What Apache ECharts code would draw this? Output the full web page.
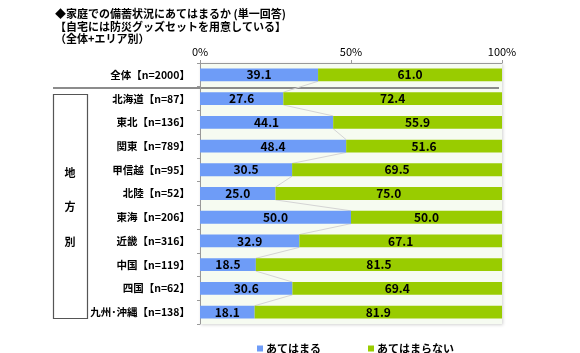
<!DOCTYPE html>
<html>
<head>
<meta charset="utf-8">
<script src="https://cdn.jsdelivr.net/npm/echarts@6/dist/echarts.min.js"></script>
<style>html,body{margin:0;padding:0;background:#fff;}#c{width:580px;height:353px;}</style>
</head>
<body>
<div id="c"></div>
<script>
const categories = ['全体【n=2000】','北海道【n=87】','東北【n=136】','関東【n=789】','甲信越【n=95】','北陸【n=52】','東海【n=206】','近畿【n=316】','中国【n=119】','四国【n=62】','九州･沖縄【n=138】'];
const applies = [39.1, 27.6, 44.1, 48.4, 30.5, 25.0, 50.0, 32.9, 18.5, 30.6, 18.1];
const notApplies = [61.0, 72.4, 55.9, 51.6, 69.5, 75.0, 50.0, 67.1, 81.5, 69.4, 81.9];
const seriesNames = ['あてはまる', 'あてはまらない'];
const xTicks = [0, 50, 100];
const titleLines = ['◆家庭での備蓄状況にあてはまるか (単一回答)', '【自宅には防災グッズセットを用意している】', '（全体+エリア別）'];
const groupLabel = ['地', '方', '別'];

const FONT = '"Noto Sans CJK JP", "Noto Sans", sans-serif';
const BAR_RATIO = 0.54;
const chart = echarts.init(document.getElementById('c'));

const connectorData = applies.slice(0, -1).map((v, i) => [i, v, applies[i + 1]]);

chart.setOption({
  animation: false,
  textStyle: { fontFamily: FONT },
  title: {
    text: titleLines.join('\n'),
    left: 50, top: 3,
    textStyle: { fontSize: 11, fontWeight: 'bold', color: '#000', lineHeight: 12.5, fontFamily: FONT }
  },
  legend: {
    left: 252, top: 338,
    icon: 'rect', itemWidth: 6, itemHeight: 6, itemGap: 47,
    textStyle: { fontSize: 11, fontWeight: 'bold', color: '#000', padding: [0, 0, 0, -2] },
    data: seriesNames
  },
  grid: {
    left: 200, right: 78, top: 63, bottom: 29,
    show: true, backgroundColor: '#f6fbf1', borderWidth: 0,
    shadowColor: 'rgba(0,0,0,0.18)', shadowBlur: 3, shadowOffsetX: 1, shadowOffsetY: 1
  },
  xAxis: {
    type: 'value', position: 'top', min: 0, max: 100, interval: 50,
    axisLine: { show: true, lineStyle: { color: '#999' } },
    axisTick: { show: true, length: 3, lineStyle: { color: '#999' } },
    splitLine: { show: false },
    axisLabel: {
      formatter: v => xTicks.includes(v) ? v + '%' : '',
      fontSize: 11, color: '#000', margin: 6, fontFamily: FONT
    }
  },
  yAxis: {
    type: 'category', inverse: true, data: categories,
    axisLine: { show: true, lineStyle: { color: '#999' } },
    axisTick: { show: true, length: 3, lineStyle: { color: '#999' } },
    axisLabel: { fontSize: 10.5, fontWeight: 'bold', color: '#000', margin: 10, fontFamily: FONT }
  },
  series: [
    {
      name: seriesNames[0], type: 'bar', stack: 's', data: applies,
      barWidth: (BAR_RATIO * 100) + '%',
      itemStyle: { color: '#6e9cf7' },
      label: { show: true, position: 'inside', formatter: p => p.value.toFixed(1), color: '#000', fontSize: 12, fontWeight: 'bold', fontFamily: FONT }
    },
    {
      name: seriesNames[1], type: 'bar', stack: 's', data: notApplies,
      itemStyle: { color: '#99cc00' },
      label: { show: true, position: 'inside', formatter: p => p.value.toFixed(1), color: '#000', fontSize: 12, fontWeight: 'bold', fontFamily: FONT }
    },
    {
      type: 'custom', silent: true, z: 1,
      data: connectorData,
      encode: { x: [1, 2], y: 0 },
      renderItem: (params, api) => {
        const i = api.value(0);
        const p1 = api.coord([api.value(1), i]);
        const p2 = api.coord([api.value(2), i + 1]);
        const band = api.size([0, 1])[1];
        const h = band * BAR_RATIO / 2;
        return {
          type: 'line',
          shape: { x1: p1[0], y1: p1[1] + h, x2: p2[0], y2: p2[1] - h },
          style: { stroke: '#d4d4d4', lineWidth: 1 }
        };
      }
    }
  ],
  graphic: [
    { type: 'line', shape: { x1: 53, y1: 88, x2: 499, y2: 88 }, style: { stroke: '#666', lineWidth: 1.5 } },
    { type: 'rect', shape: { x: 53.5, y: 94.5, width: 34, height: 224 }, style: { fill: 'none', stroke: '#555', lineWidth: 1.2 } },
    { type: 'text', x: 70, y: 173, style: { text: groupLabel[0], font: 'bold 11px ' + FONT, fill: '#000', align: 'center', verticalAlign: 'middle' } },
    { type: 'text', x: 70, y: 207, style: { text: groupLabel[1], font: 'bold 11px ' + FONT, fill: '#000', align: 'center', verticalAlign: 'middle' } },
    { type: 'text', x: 70, y: 242, style: { text: groupLabel[2], font: 'bold 11px ' + FONT, fill: '#000', align: 'center', verticalAlign: 'middle' } }
  ]
});
</script>
</body>
</html>
